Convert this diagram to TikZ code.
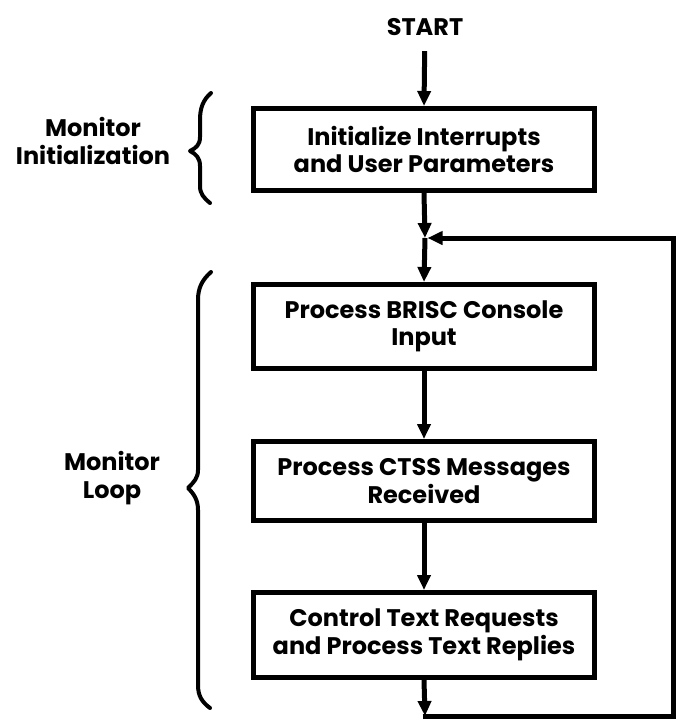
\documentclass[tikz,border=0pt]{standalone}
\usepackage{fontspec}
\setmainfont{Poppins}
\usetikzlibrary{arrows.meta}
\begin{document}
\begin{tikzpicture}[x=1pt,y=-1pt,
  every node/.style={font=\fontsize{24}{27.5}\selectfont\bfseries},
  stepbox/.style={draw, line width=5pt, minimum width=341pt, align=center, inner sep=0pt},
  flow/.style={line width=5pt, -{Triangle[length=15pt,width=13pt]}},
  loopline/.style={line width=5pt},
  bracket/.style={line width=4pt, line cap=round, line join=round}]
\useasboundingbox (0,0) rectangle (679,723);

% process steps
\node (start) at (425,27) {START};
\node[stepbox, minimum height=82pt] (init)  at (424,149.5) {Initialize Interrupts\\and User Parameters};
\node[stepbox, minimum height=84pt] (brisc) at (424,326.5) {Process BRISC Console\\Input};
\node[stepbox, minimum height=79pt] (ctss)  at (424,481)   {Process CTSS Messages\\Received};
\node[stepbox, minimum height=85pt] (texts) at (424,635)   {Control Text Requests\\and Process Text Replies};

% side labels
\node[align=center] (initlabel) at (93,141) {Monitor\\Initialization};
\node[align=center] (looplabel) at (112,478) {Monitor\\Loop};

% loop return path
\coordinate (j)  at (425,238);
\coordinate (tr) at (673,238);
\coordinate (br) at (673,716);
\coordinate (bl) at (422.5,716);

\draw[flow, shorten <=12pt] (start) -- (init.north);
\draw[flow] (init.south) -- (j);
\draw[flow] (j) -- (brisc.north);
\draw[flow] (brisc.south) -- (ctss.north);
\draw[flow] (ctss.south) -- (texts.north);
\draw[flow] (texts.south) -- (425,716);
\draw[loopline, line join=miter, -{Triangle[length=15pt,width=13pt]}, shorten >=2.5pt]
  (bl) -- (br) -- (tr) -- (j);

% braces
\draw[bracket] (211,93) .. controls (203,100) and (200,108) .. (200,120) -- (200,137)
  .. controls (200,145) and (196,148) .. (190,151)
  .. controls (196,154) and (200,158) .. (200,166) -- (200,186)
  .. controls (200,194) and (204,198) .. (210,203);
\draw[bracket] (211,272) .. controls (202,280) and (198,288) .. (198,300) -- (198,470)
  .. controls (198,478) and (194,482) .. (188,488)
  .. controls (194,494) and (198,500) .. (198,510) -- (198,685)
  .. controls (198,696) and (202,702) .. (210,708);
\end{tikzpicture}
\end{document}
